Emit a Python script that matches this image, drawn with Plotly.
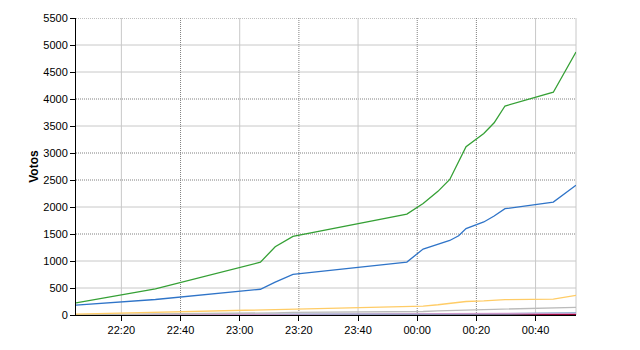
import plotly.graph_objects as go

# Times (HH:MM:SS), first part on day 1, after midnight on day 2
times = ["22:04:40", "22:31:30", "23:07:00", "23:12:00", "23:18:00", "23:56:30",
         "00:02:00", "00:07:00", "00:11:00", "00:14:00", "00:16:30", "00:22:30",
         "00:26:00", "00:29:40", "00:46:00", "00:53:40"]

green = [225, 482, 977, 1265, 1454, 1870, 2065, 2290, 2510, 2842, 3117, 3360, 3560, 3870, 4125, 4870]
blue = [183, 287, 477, 610, 752, 980, 1222, 1310, 1380, 1467, 1601, 1723, 1833, 1968, 2090, 2402]
yellow = [15, 50, 85, 95, 110, 150, 165, 190, 215, 235, 250, 260, 275, 285, 295, 365]
grey = [5, 15, 30, 40, 50, 55, 65, 75, 85, 90, 95, 100, 105, 110, 120, 140]
purple = [3, 6, 10, 12, 14, 18, 20, 22, 24, 25, 26, 27, 28, 29, 30, 32]
cyan = [1, 2, 3, 4, 5, 6, 8, 10, 12, 14, 16, 18, 20, 22, 26, 40]
darkred = [0, 1, 1, 2, 2, 2, 3, 3, 3, 4, 4, 4, 5, 5, 5, 6]

y_ticks = [0, 500, 1000, 1500, 2000, 2500, 3000, 3500, 4000, 4500, 5000, 5500]
y_dotted = [1500, 2500, 3000, 4000, 5500]
x_ticks = ["22:20", "22:40", "23:00", "23:20", "23:40", "00:00", "00:20", "00:40"]
x_dotted = ["22:40", "23:20", "00:00", "00:20"]


def to_dt(t):
    day = "2011-05-22" if t >= "12" else "2011-05-23"
    if len(t) == 5:
        t = t + ":00"
    return f"{day} {t}"


xs = [to_dt(t) for t in times]

series = [
    ("darkred", darkred, "#990033"),
    ("cyan", cyan, "#33cccc"),
    ("purple", purple, "#cc99cc"),
    ("grey", grey, "#bbbbbb"),
    ("yellow", yellow, "#ffcc66"),
    ("blue", blue, "#2f74c8"),
    ("green", green, "#35a035"),
]

fig = go.Figure()
for name, vals, col in series:
    fig.add_trace(go.Scatter(x=xs, y=vals, mode="lines", name=name,
                             line=dict(color=col, width=1.3), showlegend=False))

shapes = []
for v in y_ticks[1:]:
    dotted = v in y_dotted
    shapes.append(dict(type="line", xref="paper", yref="y", x0=0, x1=1, y0=v, y1=v,
                       line=dict(color="#808080" if dotted else "#c8c8c8", width=1,
                                 dash="1px,1px" if dotted else "solid"), layer="below"))
for t in x_ticks:
    dotted = t in x_dotted
    xv = to_dt(t)
    shapes.append(dict(type="line", xref="x", yref="paper", x0=xv, x1=xv, y0=0, y1=1,
                       line=dict(color="#808080" if dotted else "#c8c8c8", width=1,
                                 dash="1px,1px" if dotted else "solid"), layer="below"))
shapes.append(dict(type="line", xref="paper", yref="paper", x0=1, x1=1, y0=0, y1=1,
                   line=dict(color="#c8c8c8", width=1), layer="below"))

fig.update_layout(
    width=640, height=350,
    margin=dict(l=76, r=64, t=15, b=35),
    paper_bgcolor="white", plot_bgcolor="white",
    font=dict(family="Liberation Sans, Arial, sans-serif", size=11, color="black"),
    shapes=shapes,
    xaxis=dict(type="date", range=[xs[0], xs[-1]],
               tickvals=[to_dt(t) for t in x_ticks], ticktext=x_ticks,
               showgrid=False, zeroline=False, showline=True, linecolor="black",
               linewidth=1, ticks="outside", ticklen=5, tickcolor="black"),
    yaxis=dict(range=[0, 5500], tickvals=y_ticks, showgrid=False, zeroline=False,
               showline=True, linecolor="black", linewidth=1, ticks="outside",
               ticklen=5, tickcolor="black",
               title=dict(text="<b>Votos</b>", font=dict(size=12), standoff=2)),
)

fig.write_html("out.html")
